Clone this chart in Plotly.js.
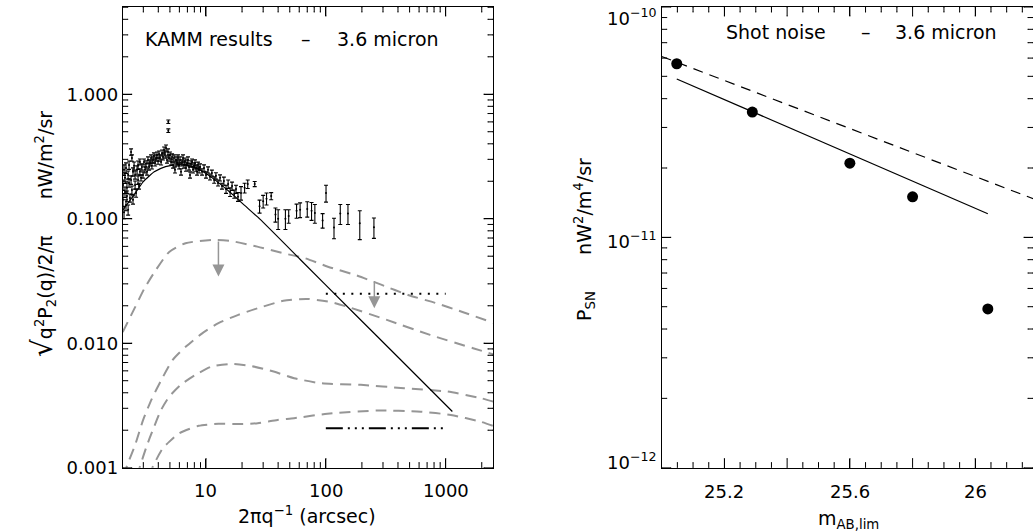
<!DOCTYPE html>
<html><head><meta charset="utf-8">
<script src="https://cdn.plot.ly/plotly-3.0.1.min.js"></script>
<style>html,body{margin:0;padding:0;background:#fff}#chart{width:1033px;height:531px}</style>
</head><body><div id="chart"></div>
<script>
// ---------- Left panel: KAMM results, 3.6 micron ----------
const sizeArcsec = [2.03,2.03,2.07,2.07,2.11,2.11,2.15,2.15,2.19,2.19,2.24,2.24,2.28,2.28,2.32,2.37,2.41,2.37,2.41,2.46,2.46,2.51,2.56,2.56,2.61,2.66,2.71,2.71,2.76,2.81,2.81,2.87,2.92,2.98,3.04,3.10,3.16,3.22,3.28,3.35,3.41,3.48,3.54,3.61,3.68,3.76,3.83,3.90,3.98,4.06,4.13,4.22,4.30,4.38,4.47,4.55,4.64,4.73,4.82,4.91,4.85,4.85,5.01,5.11,5.21,5.31,5.41,5.51,5.62,5.73,5.84,5.96,6.07,6.19,6.31,6.43,6.56,6.68,6.81,6.95,7.08,7.22,7.36,7.50,7.65,7.80,7.95,8.10,8.26,8.42,8.58,8.75,8.92,9.27,9.63,10.0,10.4,10.8,11.2,11.7,12.1,12.6,13.1,13.6,14.1,14.7,15.3,15.9,16.5,17.2,17.8,18.5,19.6,21.0,22.3,25.5,28.0,30.0,32.0,35.0,38.0,40.0,46.0,49.0,57.0,61.0,70.0,76.0,81.0,94.0,100.4,117,132,153,192,252];
const powerVal = [0.142,0.187,0.247,0.113,0.164,0.213,0.129,0.256,0.177,0.152,0.225,0.118,0.194,0.270,0.147,0.344,0.308,0.205,0.170,0.238,0.142,0.266,0.187,0.225,0.161,0.247,0.205,0.270,0.183,0.238,0.286,0.213,0.261,0.225,0.286,0.247,0.276,0.238,0.297,0.261,0.281,0.308,0.266,0.297,0.320,0.281,0.308,0.325,0.291,0.331,0.308,0.286,0.338,0.314,0.357,0.325,0.370,0.297,0.344,0.308,0.602,0.510,0.325,0.286,0.314,0.270,0.308,0.247,0.297,0.281,0.308,0.266,0.297,0.238,0.281,0.308,0.270,0.291,0.256,0.281,0.297,0.261,0.225,0.276,0.286,0.247,0.266,0.281,0.256,0.238,0.270,0.247,0.261,0.238,0.256,0.225,0.247,0.217,0.233,0.205,0.221,0.194,0.213,0.183,0.201,0.173,0.190,0.164,0.183,0.158,0.173,0.150,0.161,0.177,0.190,0.190,0.126,0.138,0.145,0.152,0.108,0.100,0.100,0.105,0.116,0.118,0.120,0.116,0.111,0.097,0.161,0.085,0.110,0.110,0.092,0.0855];
const powerErr = [0.017,0.018,0.024,0.013,0.016,0.021,0.013,0.025,0.017,0.015,0.017,0.011,0.015,0.021,0.011,0.020,0.018,0.016,0.013,0.018,0.011,0.020,0.014,0.017,0.012,0.019,0.016,0.021,0.010,0.014,0.016,0.012,0.015,0.013,0.016,0.014,0.016,0.014,0.017,0.015,0.016,0.018,0.015,0.017,0.018,0.016,0.018,0.019,0.017,0.019,0.018,0.016,0.019,0.018,0.020,0.019,0.021,0.017,0.020,0.018,0.020,0.017,0.019,0.016,0.018,0.015,0.018,0.014,0.017,0.016,0.018,0.015,0.017,0.014,0.016,0.018,0.015,0.017,0.015,0.016,0.017,0.015,0.013,0.016,0.016,0.014,0.015,0.016,0.015,0.014,0.015,0.014,0.015,0.014,0.015,0.013,0.014,0.012,0.013,0.012,0.013,0.011,0.012,0.010,0.015,0.013,0.015,0.013,0.014,0.012,0.013,0.012,0.020,0.016,0.015,0.009,0.015,0.016,0.016,0.010,0.014,0.018,0.018,0.013,0.015,0.016,0.017,0.019,0.019,0.013,0.025,0.016,0.020,0.020,0.024,0.016];

// gray dashed model components
const compAx = [2.02,2.55,3.08,3.72,4.93,6.75,11.9,16.1,26.8,44.2,67.1,104,175,293,486,816,1362,2490];
const compAy = [0.0123,0.0193,0.0278,0.0373,0.0541,0.0636,0.0676,0.0663,0.0597,0.0528,0.0482,0.0412,0.0354,0.0294,0.0244,0.0211,0.0179,0.0146];
const compBx = [2.10,2.18,2.56,2.99,3.50,4.24,5.28,6.80,9.30,12.7,18.6,27.0,44.2,69.3,108,150,323,741,1694,2490];
const compBy = [0.00085,0.00102,0.00152,0.00242,0.00351,0.00507,0.00735,0.0094,0.0120,0.0145,0.0169,0.0191,0.0219,0.0227,0.0215,0.0197,0.0154,0.01166,0.00912,0.00815];
const compCx = [2.65,2.81,3.19,3.60,4.22,4.93,6.14,8.15,11.1,16.2,23.6,36.7,54.3,91,196,450,1034,1965,2490];
const compCy = [0.00085,0.00102,0.00148,0.00201,0.00291,0.00372,0.00462,0.00556,0.00648,0.00682,0.00657,0.00592,0.00524,0.00477,0.00463,0.00435,0.00409,0.00362,0.0034];
const compDx = [3.40,3.60,4.36,4.95,5.98,8.7,12.7,18.6,27.0,39.5,54.3,103,269,620,1105,1965,2490];
const compDy = [0.00085,0.00102,0.00143,0.00162,0.00189,0.00217,0.00225,0.00224,0.00228,0.00242,0.00250,0.00271,0.00288,0.00282,0.00265,0.00234,0.00217];

// black solid model
const modelX = [2.02,2.5,3.0,3.7,4.6,5.8,7.2,9.0,11.5,15.9,21,28.2,60.9,159,417,1137];
const modelY = [0.117,0.155,0.199,0.238,0.262,0.272,0.267,0.245,0.210,0.163,0.128,0.0992,0.0473,0.01875,0.00744,0.00283];

// horizontal reference levels
const levelX = [100,1000];
const dottedLevel = [0.025,0.025];
const dashDotLevel = [0.00207,0.00207];

// arrows (x, from, to)
const arrowX = [12.7,254];
const arrowFrom = [0.0676,0.0325];
const arrowTo = [0.0343,0.0191];

// left axis ticks
const leftXTicks = [10,100,1000];
const leftXText = ['10','100','1000'];
const leftXMinor = [3,4,5,6,7,8,9,20,30,40,50,60,70,80,90,200,300,400,500,600,700,800,900,2000];
const leftYTicks = [0.001,0.01,0.1,1];
const leftYText = ['0.001','0.010','0.100','1.000'];
const leftYMinor = [0.002,0.003,0.004,0.005,0.006,0.007,0.008,0.009,0.02,0.03,0.04,0.05,0.06,0.07,0.08,0.09,0.2,0.3,0.4,0.5,0.6,0.7,0.8,0.9,2,3,4,5];

// ---------- Right panel: Shot noise ----------
const magLim = [25.048,25.289,25.6,25.8,26.04];
const shotNoise = [5.67e-11,3.50e-11,2.10e-11,1.50e-11,4.89e-12];
const fitSolidX = [25.048,26.04];
const fitSolidY = [4.87e-11,1.266e-11];
const fitDashX = [25.0,26.25];
const fitDashY = [6.10e-11,1.36e-11];
const rightXTicks = [25.2,25.6,26.0];
const rightXText = ['25.2','25.6','26'];
const rightXUnlabeled = [25.4,25.8];
const rightXMinor = [25.05,25.1,25.15,25.25,25.3,25.35,25.45,25.5,25.55,25.65,25.7,25.75,25.85,25.9,25.95,26.05,26.1,26.15];
const rightYTicks = [1e-12,1e-11,1e-10];
const rightYText = ['10<sup>−12</sup>','10<sup>−11</sup>','10<sup>−10</sup>'];
const rightYMinor = [2e-12,3e-12,4e-12,5e-12,6e-12,7e-12,8e-12,9e-12,2e-11,3e-11,4e-11,5e-11,6e-11,7e-11,8e-11,9e-11];

// ---------- build ----------
const W=1033,H=531;
const FONT='DejaVu Sans';
const GRAY='rgb(150,150,150)';
const lx0=122.7/W, lx1=493/W, rx0=661.7/W, rx1=1;
const yd0=1-467.7/H, yd1=1-7/H;
const LXR=[0.305,3.395], LYR=[-3,0.701], RXR=[25.0,26.184], RYR=[-12,-10];
const PH=(yd1-yd0)*H, LPW=(lx1-lx0)*W, RPW=(rx1-rx0)*W;
const MAJ=9, MIN=5;

const gdash = {color:GRAY,width:2,dash:'11px,7px',shape:'spline',smoothing:0.6};
const traces = [
  {x:sizeArcsec,y:powerVal,type:'scatter',mode:'markers',xaxis:'x',yaxis:'y',
   marker:{size:2,color:'black'},
   error_y:{type:'data',array:powerErr,visible:true,color:'black',thickness:1.1,width:2}},
  {x:compAx,y:compAy,mode:'lines',line:gdash,xaxis:'x',yaxis:'y'},
  {x:compBx,y:compBy,mode:'lines',line:gdash,xaxis:'x',yaxis:'y'},
  {x:compCx,y:compCy,mode:'lines',line:gdash,xaxis:'x',yaxis:'y'},
  {x:compDx,y:compDy,mode:'lines',line:gdash,xaxis:'x',yaxis:'y'},
  {x:modelX,y:modelY,mode:'lines',xaxis:'x',yaxis:'y',line:{color:'black',width:1.2,shape:'spline',smoothing:0.5}},
  {x:levelX,y:dottedLevel,mode:'lines',xaxis:'x',yaxis:'y',line:{color:'black',width:2,dash:'2px,6.5px'}},
  {x:levelX,y:dashDotLevel,mode:'lines',xaxis:'x',yaxis:'y',line:{color:'black',width:2,dash:'17px,5px,2px,5px,2px,5px,2px,5px'}},
  {x:magLim,y:shotNoise,mode:'markers',xaxis:'x2',yaxis:'y2',marker:{size:11,color:'black'}},
  {x:fitSolidX,y:fitSolidY,mode:'lines',xaxis:'x2',yaxis:'y2',line:{color:'black',width:1.2}},
  {x:fitDashX,y:fitDashY,mode:'lines',xaxis:'x2',yaxis:'y2',line:{color:'black',width:1.2,dash:'10px,7px'}}
];

// inside tick marks drawn as one-sided error bars from points on the frame
const pow10=u=>Math.pow(10,u), lin=u=>u;
function xTickBars(vals,len,xa,ya,yr,conv){
  const d=len*(yr[1]-yr[0])/PH, lo=conv(yr[0]), hi=conv(yr[1]);
  const xs=[], ys=[], up=[], dn=[];
  vals.forEach(v=>{
    xs.push(v); ys.push(lo); up.push(conv(yr[0]+d)-lo); dn.push(0);
    xs.push(v); ys.push(hi); up.push(0); dn.push(hi-conv(yr[1]-d));
  });
  return {x:xs,y:ys,mode:'markers',xaxis:xa,yaxis:ya,hoverinfo:'skip',marker:{size:1,color:'rgba(0,0,0,0)'},
    error_y:{type:'data',symmetric:false,array:up,arrayminus:dn,visible:true,color:'black',thickness:1,width:0.5}};
}
function yTickBars(vals,len,xa,ya,xr,conv,pw){
  const d=len*(xr[1]-xr[0])/pw, lo=conv(xr[0]), hi=conv(xr[1]);
  const xs=[], ys=[], rt=[], lf=[];
  vals.forEach(v=>{
    ys.push(v); xs.push(lo); rt.push(conv(xr[0]+d)-lo); lf.push(0);
    ys.push(v); xs.push(hi); rt.push(0); lf.push(hi-conv(xr[1]-d));
  });
  return {x:xs,y:ys,mode:'markers',xaxis:xa,yaxis:ya,hoverinfo:'skip',marker:{size:1,color:'rgba(0,0,0,0)'},
    error_x:{type:'data',symmetric:false,array:rt,arrayminus:lf,visible:true,color:'black',thickness:1,width:0.5}};
}
traces.push(xTickBars(leftXTicks,MAJ,'x','y',LYR,pow10));
traces.push(xTickBars(leftXMinor,MIN,'x','y',LYR,pow10));
traces.push(yTickBars(leftYTicks,MAJ,'x','y',LXR,pow10,LPW));
traces.push(yTickBars(leftYMinor,MIN,'x','y',LXR,pow10,LPW));
traces.push(xTickBars(rightXTicks.concat(rightXUnlabeled),MAJ,'x2','y2',RYR,pow10));
traces.push(xTickBars(rightXMinor,MIN,'x2','y2',RYR,pow10));
traces.push(yTickBars(rightYTicks,MAJ,'x2','y2',RXR,lin,RPW));
traces.push(yTickBars(rightYMinor,MIN,'x2','y2',RXR,lin,RPW));

const tickfont = {family:FONT,size:18,color:'black'};
const baseAxis = {showline:true,linecolor:'black',linewidth:1,mirror:'allticks',ticks:'inside',ticklen:MAJ,
  tickwidth:1,tickcolor:'black',showgrid:false,zeroline:false,tickfont:tickfont,tickmode:'array'};

function lbl(text,px,py,opts){
  return Object.assign({xref:'paper',yref:'paper',x:px/W,y:1-py/H,xanchor:'center',yanchor:'middle',
    showarrow:false,text:text,font:{family:FONT,size:19,color:'black'}},opts||{});
}
const annotations = [
  lbl('KAMM results',143,39,{xanchor:'left'}),
  lbl('–',306,39),
  lbl('3.6 micron',335,39,{xanchor:'left'}),
  lbl('Shot noise',724,32,{xanchor:'left'}),
  lbl('–',866,32),
  lbl('3.6 micron',893,32,{xanchor:'left'}),
  lbl('2πq<sup>−1</sup> (arcsec)',307,515),
  lbl('m<sub>AB,lim</sub>',848,519),
  lbl('<span style="font-size:28px">√</span>q<sup>2</sup>P<sub>2</sub>(q)/2/π      nW/m<sup>2</sup>/sr',43,234,{textangle:-90}),
  lbl('P<sub>SN</sub>      nW<sup>2</sup>/m<sup>4</sup>/sr',584,240,{textangle:-90}),
  lbl(rightYText[2],631,17,{font:{family:FONT,size:18,color:'black'}}),
  lbl(rightYText[1],631,240,{font:{family:FONT,size:18,color:'black'}}),
  lbl(rightYText[0],631,461,{font:{family:FONT,size:18,color:'black'}})
];
leftXTicks.forEach((v,i)=>annotations.push({xref:'x',yref:'paper',x:Math.log10(v),y:1-490/H,xanchor:'center',yanchor:'middle',
  showarrow:false,text:leftXText[i],font:{family:FONT,size:18,color:'black'}}));
rightXTicks.forEach((v,i)=>annotations.push({xref:'x2',yref:'paper',x:v,y:1-491/H,xanchor:'center',yanchor:'middle',
  showarrow:false,text:rightXText[i],font:{family:FONT,size:18,color:'black'}}));
for (let i=0;i<arrowX.length;i++){
  annotations.push({xref:'x',yref:'y',axref:'x',ayref:'y',
    x:Math.log10(arrowX[i]),y:Math.log10(arrowTo[i]),ax:Math.log10(arrowX[i]),ay:Math.log10(arrowFrom[i]),
    showarrow:true,arrowhead:2,arrowsize:1.6,arrowwidth:1.5,arrowcolor:GRAY,text:''});
}

const layout = {
  width:W,height:H,margin:{l:0,r:0,t:0,b:0},paper_bgcolor:'white',plot_bgcolor:'white',
  showlegend:false,font:{family:FONT,color:'black'},
  xaxis:{...baseAxis,type:'log',range:LXR,domain:[lx0,lx1],anchor:'y',
    tickvals:leftXTicks,ticktext:leftXText,showticklabels:false},
  yaxis:{...baseAxis,type:'log',range:LYR,domain:[yd0,yd1],anchor:'x',
    tickvals:leftYTicks,ticktext:leftYText},
  xaxis2:{...baseAxis,type:'linear',range:RXR,domain:[rx0,rx1],anchor:'y2',
    tickvals:rightXTicks,ticktext:rightXText,showticklabels:false},
  yaxis2:{...baseAxis,type:'log',range:RYR,domain:[yd0,yd1],anchor:'x2',
    tickvals:rightYTicks,showticklabels:false},
  annotations:annotations
};
Plotly.newPlot('chart',traces,layout,{displayModeBar:false});
</script></body></html>
